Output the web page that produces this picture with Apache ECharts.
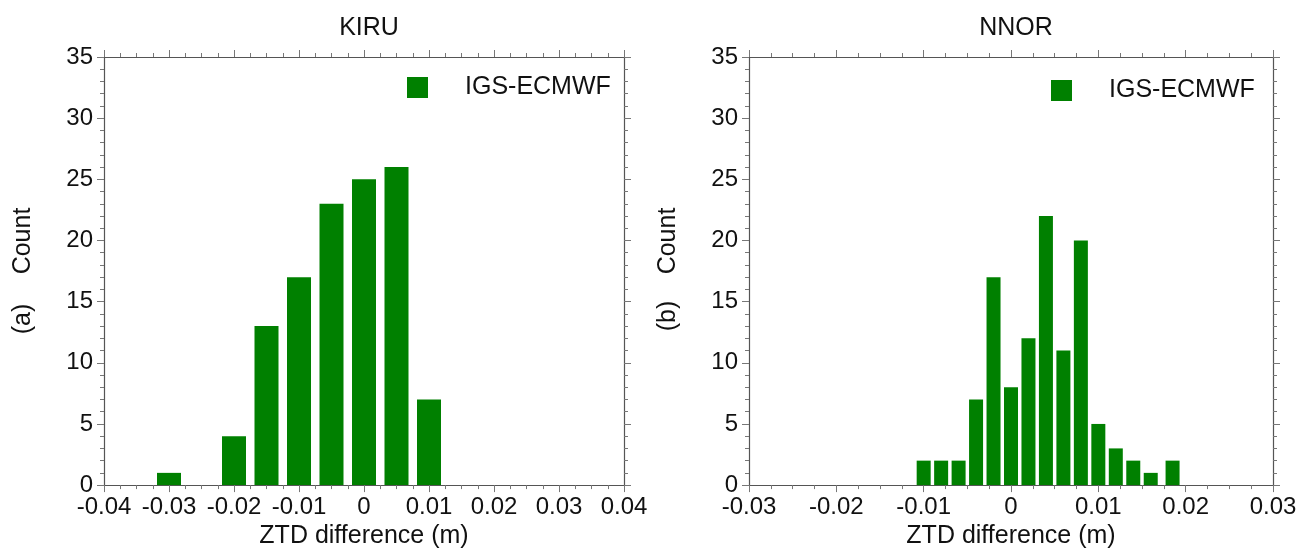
<!DOCTYPE html>
<html>
<head>
<meta charset="utf-8">
<script src="https://cdn.jsdelivr.net/npm/echarts@6/dist/echarts.min.js"></script>
<style>
  html, body { margin: 0; padding: 0; background: #fff; }
  #chart { width: 1301px; height: 554px; }
</style>
</head>
<body>
<div id="chart"></div>
<script>
// KIRU histogram: bin centres (m) and counts
const kiruBins = [-0.03, -0.02, -0.015, -0.01, -0.005, 0, 0.005, 0.01];
const kiruCounts = [1, 4, 13, 17, 23, 25, 26, 7];

// NNOR histogram
const nnorBins = [-0.01, -0.008, -0.006, -0.004, -0.002, 0, 0.002, 0.004, 0.006, 0.008, 0.01, 0.012, 0.014, 0.016, 0.0185];
const nnorCounts = [2, 2, 2, 7, 17, 8, 12, 22, 11, 20, 5, 3, 2, 1, 2];

const titles = ["KIRU", "NNOR"];
const panelTags = ["(a)", "(b)"];
const seriesName = "IGS-ECMWF";

const font = "Liberation Sans, Arial, sans-serif";
const green = "#008000";
const axisCol = "#555";
const tickCol = "#777";

const chart = echarts.init(document.getElementById("chart"));

function pairs(xs, ys) {
  return xs.map((x, i) => [x, ys[i]]);
}

// one pair of x axes (bottom + mirrored top) per grid
function xAxes(gridIndex, lim) {
  const common = {
    type: "value",
    gridIndex: gridIndex,
    min: -lim,
    max: lim,
    interval: 0.01,
    splitLine: { show: false },
    axisLine: { show: true, onZero: false, lineStyle: { color: axisCol, width: 1.2 } },
    axisTick: { show: true, length: 7, lineStyle: { color: tickCol } },
    minorTick: { show: true, splitNumber: 4, length: 4, lineStyle: { color: tickCol } },
  };
  return [
    {
      ...common,
      position: "bottom",
      name: "ZTD difference (m)",
      nameLocation: "middle",
      nameGap: 37,
      nameTextStyle: { fontFamily: font, fontSize: 25, color: "#111" },
      axisLabel: { fontFamily: font, fontSize: 24, color: "#111", margin: 10 },
    },
    { ...common, position: "top", axisLabel: { show: false } },
  ];
}

function yAxes(gridIndex) {
  const common = {
    type: "value",
    gridIndex: gridIndex,
    min: 0,
    max: 35,
    interval: 5,
    splitLine: { show: false },
    axisLine: { show: true, onZero: false, lineStyle: { color: axisCol, width: 1.2 } },
    axisTick: { show: true, length: 7, lineStyle: { color: tickCol } },
    minorTick: { show: true, splitNumber: 5, length: 4, lineStyle: { color: tickCol } },
  };
  return [
    {
      ...common,
      position: "left",
      axisLabel: { fontFamily: font, fontSize: 24, color: "#111", margin: 11 },
    },
    { ...common, position: "right", axisLabel: { show: false } },
  ];
}

const option = {
  backgroundColor: "#fff",
  animation: false,
  title: [
    { text: titles[0], left: 364, top: 11, textAlign: "center",
      textStyle: { fontFamily: font, fontSize: 25, fontWeight: "normal", color: "#111" } },
    { text: titles[1], left: 1011, top: 11, textAlign: "center",
      textStyle: { fontFamily: font, fontSize: 25, fontWeight: "normal", color: "#111" } },
  ],
  legend: [
    { data: [seriesName], left: 407, top: 75, padding: 0, icon: "rect",
      itemWidth: 21, itemHeight: 21,
      textStyle: { fontFamily: font, fontSize: 25, color: "#111", padding: [0, 0, 0, 32] } },
    { data: [seriesName], left: 1051, top: 78, padding: 0, icon: "rect",
      itemWidth: 21, itemHeight: 21,
      textStyle: { fontFamily: font, fontSize: 25, color: "#111", padding: [0, 0, 0, 32] } },
  ],
  grid: [
    { left: 104, top: 57, width: 520, height: 429 },
    { left: 749, top: 57, width: 524, height: 429 },
  ],
  xAxis: [...xAxes(0, 0.04), ...xAxes(1, 0.03)],
  yAxis: [...yAxes(0), ...yAxes(1)],
  series: [
    {
      name: seriesName,
      type: "bar",
      xAxisIndex: 0,
      yAxisIndex: 0,
      barWidth: 24,
      itemStyle: { color: green },
      data: pairs(kiruBins, kiruCounts),
    },
    {
      name: seriesName,
      type: "bar",
      xAxisIndex: 2,
      yAxisIndex: 2,
      barWidth: 14,
      itemStyle: { color: green },
      data: pairs(nnorBins, nnorCounts),
    },
  ],
  graphic: [
    { type: "text", x: 23, y: 241, rotation: Math.PI / 2,
      style: { text: "Count", fontFamily: font, fontSize: 25, fill: "#111", align: "center", verticalAlign: "middle" } },
    { type: "text", x: 23, y: 319, rotation: Math.PI / 2,
      style: { text: panelTags[0], fontFamily: font, fontSize: 25, fill: "#111", align: "center", verticalAlign: "middle" } },
    { type: "text", x: 668, y: 241, rotation: Math.PI / 2,
      style: { text: "Count", fontFamily: font, fontSize: 25, fill: "#111", align: "center", verticalAlign: "middle" } },
    { type: "text", x: 668, y: 316, rotation: Math.PI / 2,
      style: { text: panelTags[1], fontFamily: font, fontSize: 25, fill: "#111", align: "center", verticalAlign: "middle" } },
  ],
};

chart.setOption(option);
</script>
</body>
</html>
